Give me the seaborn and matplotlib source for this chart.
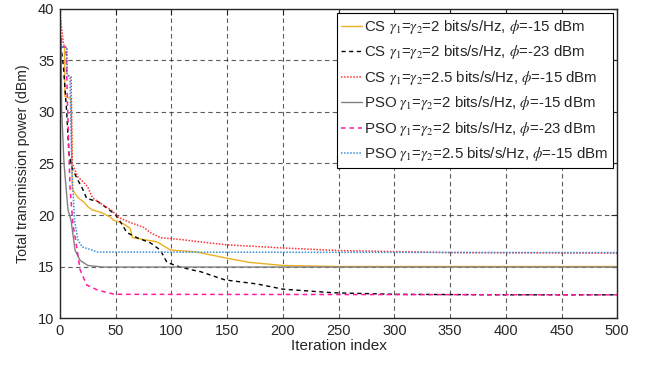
import matplotlib
matplotlib.use("Agg")
import matplotlib.pyplot as plt
import seaborn as sns
import pandas as pd

sns.set_style("white")
plt.rcParams['font.family'] = ['Liberation Sans', 'DejaVu Sans']
plt.rcParams['mathtext.fontset'] = 'stix'

# ---- data (knots) ----
cs2_15_x = [0, 1, 4, 4.5, 10, 11, 16, 22, 25, 29, 38, 45, 48, 56, 63, 65, 87, 99, 123, 150, 170, 200, 250, 500]
cs2_15_y = [38, 36.3, 36.3, 31.5, 31.3, 22.5, 21.7, 21.2, 20.8, 20.5, 20.2, 19.8, 19.5, 19.2, 18.7, 17.8, 17.4, 16.6, 16.4, 15.8, 15.4, 15.1, 15.0, 15.0]

cs2_23_x = [0, 1, 3, 6, 8, 11, 16, 20, 24, 34, 43, 50, 55, 60, 69, 81, 90, 96, 105, 117, 126, 148, 177, 200, 245, 300, 400, 500]
cs2_23_y = [38, 36.3, 34.5, 30, 26, 24.5, 23.4, 22.6, 21.6, 21.3, 20.6, 20.0, 19.2, 18.3, 17.8, 17.3, 16.6, 15.4, 15.05, 14.7, 14.5, 13.7, 13.3, 12.8, 12.45, 12.3, 12.25, 12.25]

cs25_15_x = [0, 3, 4, 6, 6.5, 10, 11, 16, 21, 25, 29, 34, 47, 52, 60, 75, 81, 90, 110, 125, 150, 200, 250, 300, 350, 500]
cs25_15_y = [39.5, 36.7, 36.3, 36.3, 33.6, 33.4, 25, 23.7, 23.2, 22.7, 21.7, 21.3, 20.4, 19.8, 19.4, 18.8, 18.3, 17.8, 17.6, 17.4, 17.1, 16.8, 16.55, 16.45, 16.35, 16.3]

pso2_15_x = [0, 1, 1.5, 3.6, 7.2, 9.9, 13.5, 18, 25, 38, 500]
pso2_15_y = [38, 36.5, 30.2, 25, 20.5, 19.5, 16.6, 15.6, 15.1, 14.95, 14.95]

pso2_23_x = [0, 2, 5.4, 6.9, 9, 11.7, 14, 18, 24, 34, 49, 500]
pso2_23_y = [38, 36.3, 36.3, 30.2, 22.7, 19, 17.6, 14.7, 13.2, 12.7, 12.3, 12.25]

pso25_15_x = [0, 1, 6, 6.5, 9, 10.5, 13, 16, 20, 34, 500]
pso25_15_y = [38, 36.3, 36.3, 33.6, 33.4, 25, 19.5, 17.6, 16.9, 16.4, 16.35]

labels = [
    r"CS $\gamma_1$=$\gamma_2$=2 bits/s/Hz, $\phi$=-15 dBm",
    r"CS $\gamma_1$=$\gamma_2$=2 bits/s/Hz, $\phi$=-23 dBm",
    r"CS $\gamma_1$=$\gamma_2$=2.5 bits/s/Hz, $\phi$=-15 dBm",
    r"PSO $\gamma_1$=$\gamma_2$=2 bits/s/Hz, $\phi$=-15 dBm",
    r"PSO $\gamma_1$=$\gamma_2$=2 bits/s/Hz, $\phi$=-23 dBm",
    r"PSO $\gamma_1$=$\gamma_2$=2.5 bits/s/Hz, $\phi$=-15 dBm",
]
xs = [cs2_15_x, cs2_23_x, cs25_15_x, pso2_15_x, pso2_23_x, pso25_15_x]
ys = [cs2_15_y, cs2_23_y, cs25_15_y, pso2_15_y, pso2_23_y, pso25_15_y]
colors = ['#EDB120', '#000000', '#FF3333', '#808080', '#FF1AA3', '#3A8FD9']
styles = ['-', (0, (3, 2.5)), (0, (1, 1)), '-', (0, (3, 2.5)), (0, (1, 1))]
widths = [1.0, 1.0, 1.1, 1.0, 1.1, 1.1]

xticks = list(range(0, 501, 50))
yticks = [10, 15, 20, 25, 30, 35, 40]

fig = plt.figure(figsize=(6.45, 3.67), dpi=100)
ax = fig.add_axes([0.093, 0.1335, 0.864, 0.842])

for x, y, c, ls, lw, lab in zip(xs, ys, colors, styles, widths, labels):
    df = pd.DataFrame({'it': x, 'p': y})
    sns.lineplot(data=df, x='it', y='p', ax=ax, color=c, linestyle=ls, linewidth=lw,
                 label=lab, sort=False, estimator=None)

ax.set_xlim(0, 500)
ax.set_ylim(10, 40)
ax.set_xticks(xticks)
ax.set_yticks(yticks)
ax.tick_params(direction='in', top=True, right=True, labelsize=10.5, length=4, width=0.8, pad=4)
ax.grid(True, color='#333333', linestyle=(0, (4, 3)), linewidth=0.8, alpha=0.8)
for s in ax.spines.values():
    s.set_color('#262626')
    s.set_linewidth(1.0)
ax.set_xlabel('Iteration index', fontsize=11, labelpad=1)
ax.set_ylabel('Total transmission power (dBm)', fontsize=10.2, labelpad=6)

leg = ax.legend(loc='upper right', fontsize=10.8, frameon=True, fancybox=False,
                edgecolor='black', framealpha=1, handlelength=1.4, handletextpad=0.1,
                labelspacing=0.5, borderpad=0.3, borderaxespad=0.3)
leg.get_frame().set_linewidth(0.8)

fig.savefig('out.png', dpi=100)
